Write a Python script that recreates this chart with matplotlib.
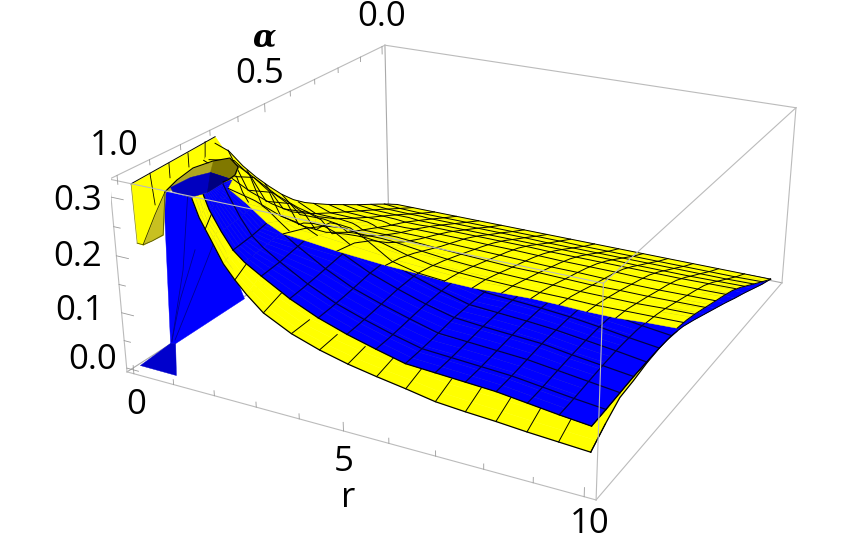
import numpy as np, matplotlib
matplotlib.use('Agg')
import matplotlib.pyplot as plt
from mpl_toolkits.mplot3d.art3d import Poly3DCollection

# ---------- values ----------
r_grid = [0.17, 0.625, 1.25, 1.61, 1.75, 1.875, 2.0, 2.25, 2.5, 2.75, 3.125, 3.75, 4.375, 5.0,
          5.625, 6.25, 6.875, 7.5, 8.125, 8.75, 9.375, 10.0]
alpha_grid = [0, 0.0625, 0.125, 0.1875, 0.25, 0.3125, 0.375, 0.4375, 0.5, 0.5625, 0.625, 0.6875,
              0.75, 0.8125, 0.875, 0.9375, 1.0]
# alpha at which the yellow sheet crosses above the blue one, per r
crossing_alpha = [.730, .830, .820, .848, .884, .920, .882, .852, .834, .794, .737, .651, .628,
                  .626, .620, .611, .603, .602, .605, .605, .600, .596]
# yellow sheet height x 1000: rows alpha_grid, columns r_grid
z_yellow = [
 [1,1,1,1,1,1,1,1,1,1,1,1,1,1,1,1,1,1,1,1,1,1],
 [20,17,16,16,16,16,16,16,16,16,16,16,16,16,15,15,15,15,15,15,15,16],
 [37,34,33,33,32,32,32,32,32,32,32,32,32,31,31,31,31,31,31,31,31,32],
 [54,50,49,49,48,47,47,47,47,47,47,47,47,47,47,47,47,46,46,46,47,48],
 [72,66,65,64,63,62,62,62,63,63,63,63,63,63,62,62,62,62,62,62,63,64],
 [90,82,80,79,77,74,75,75,76,76,76,76,75,75,74,73,73,73,72,73,73,74],
 [110,98,97,95,92,88,88,88,88,88,88,86,85,84,83,82,82,81,81,81,82,83],
 [131,115,114,111,107,102,102,102,102,102,100,97,95,93,91,91,90,89,90,90,91,92],
 [163,131,132,128,122,116,117,118,118,118,116,110,105,102,100,99,99,98,98,98,100,101],
 [201,160,163,154,143,132,135,137,138,138,135,122,113,110,108,107,106,106,105,106,107,108],
 [243,192,197,184,170,158,165,177,177,175,160,130,119,115,112,111,110,109,109,109,111,111],
 [296,230,235,221,203,186,191,194,193,187,170,132,119,115,112,110,108,107,107,107,108,108],
 [330,272,279,260,238,220,218,215,208,199,174,132,118,114,110,108,106,105,104,104,105,105],
 [330,318,325,305,279,256,251,236,222,205,172,131,117,112,108,105,101,100,99,99,99,99],
 [330,330,330,330,322,297,282,248,225,201,169,131,117,111,106,103,99,98,97,96,96,95],
 [330,330,330,327,321,323,280,242,219,196,164,129,115,106,99,94,87,85,83,81,79,77],
 [330,330,330,317,288,271,254,219,196,176,151,127,111,99,90,82,73,69,66,62,59,56],
]
# blue sheet height x 1000: rows alpha 0.5 ... 1.0, columns r_grid
z_blue = [
 [306,306,306,306,306,306,283,253,228,214,198,173,153,138,126,115,112,109,107,101,96,91],
 [330,330,330,330,330,330,316,282,255,238,221,193,171,154,140,128,125,122,119,113,107,101],
 [330,330,330,330,330,330,330,298,269,252,233,204,180,163,148,136,132,129,126,120,113,107],
 [330,330,330,330,330,330,330,302,273,255,236,206,183,165,150,137,134,131,127,121,114,108],
 [330,330,330,330,330,330,330,300,271,253,234,205,181,164,149,136,133,130,126,120,114,107],
 [330,330,330,330,330,330,330,296,267,250,231,202,179,162,147,135,131,128,125,118,112,106],
 [330,330,330,330,330,330,320,286,259,242,224,196,173,157,143,130,127,124,121,115,109,103],
 [330,330,330,330,330,330,311,278,251,235,217,190,168,152,138,126,123,120,117,111,105,100],
 [330,330,330,330,330,330,305,273,246,230,213,186,165,149,136,124,121,118,115,109,103,98],
]
# blue sheet at far alpha (0 ... 0.4375) x 1000, for r = 9.375 and r = 10
z_blue_far_r9 = [1,12,24,37,49,61,73,84]
z_blue_far_r10 = [1,11,23,35,46,58,69,80]

# pieces near the pole, x 1000
blue_wall_alpha_z = [(887,277),(903,6),(887,0),(640,1),(754,222),(803,241)]          # at r = 0
blue_foot_r_alpha = [(-100,891),(-7,886),(896,1001),(-22,1000)]                      # at z = 0
blue_wall_lines = [[(897,6),(843,121),(808,255)],[(886,6),(789,89),(738,134)],[(896,9),(860,71),(799,144)]]
yellow_wall_alpha_z = [(1011,325),(739,334),(693,284),(751,294),(818,300),(872,293),(912,284),(948,255),(991,216),(1008,224)]  # at r = 0.25
yellow_wall_dark = [(991,216),(948,255),(912,284),(911,287),(928,214)]
yellow_wall_lines = [([(1008,224),(991,216),(963,214),(928,214),(912,284)],'#555500',.6),
                     ([(991,216),(948,255),(912,284),(872,293)],'#333300',.6),
                     ([(1011,325),(739,334)],'k',.7),
                     ([(1011,325),(1008,224)],'#888820',.5),
                     ([(953,327),(945,271)],'k',.6),
                     ([(893,328),(893,303)],'k',.6),
                     ([(831,329),(831,305)],'k',.6),
                     ([(773,334),(777,303)],'k',.6)]
ring_r_alpha = [(1201,1028),(1010,966),(882,898),(992,848),(1189,818),(1632,852),(1841,892),(1881,920),(1860,933),(1905,991),(1777,1026),(1220,1015)]  # at z = 0.33
ring_dark = [(992,848),(1189,818),(1632,852),(1841,892),(1881,920),(1311,901)]
ring_blue = [(1122,1002),(1133,941),(1311,901),(1817,911),(1860,933),(1905,991),(1777,1026),(1286,1017)]
ring_blue_dark = [(1311,901),(1817,911),(1860,933),(1905,991)]

r_limits = (-0.175, 10.23)
alpha_limits = (1.023, -0.014)
z_limits = (-0.007, 0.33)
r_ticks = list(range(11))
alpha_ticks = [0, .1, .2, .3, .4, .5, .6, .7, .8, .9, 1.0]
z_ticks = [0, .05, .1, .15, .2, .25, .3]
tick_labels = [(382,17,'0.0'),(260,74,'0.5'),(114,146,'1.0'),(78,201,'0.3'),(78,257,'0.2'),(80,311,'0.1'),
               (93,360,'0.0'),(136,405,'0'),(344,462,'5'),(348,498,'r'),(590,524,'10')]

# ---------- drawing ----------
fig = plt.figure(figsize=(8.6, 5.42), dpi=100)
ax = fig.add_axes([110.56/860, -55.8/542, 706.1/860, 706.1/542], projection='3d', computed_zorder=False)
ax.set_xlim(*r_limits); ax.set_ylim(*alpha_limits); ax.set_zlim(*z_limits)
ax.set_proj_type('persp', focal_length=0.43)
ax.view_init(22.793, -62.169)
ax.set_box_aspect((2.483, 2.491, 1))
ax.set_axis_off()
ax.autoscale(False)

rg = np.array(r_grid); ag = np.array(alpha_grid); ac = np.array(crossing_alpha)
Zy = np.array(z_yellow)/1000.; Zb = np.array(z_blue)/1000.
n = len(rg)
mesh = np.isclose(rg/.625, np.round(rg/.625))
ab = ag[8:]
def zy(al, j): return np.interp(al, ag, Zy[:, j])
def zbb(al, j): return np.interp(al, ab, Zb[:, j])

Y = '#ffff00'; B = '#0000ff'; NAVY = '#00004a'
def surf(R, A, Z, col, zo):
    ax.plot_surface(R, A, Z, color=col, shade=False, rstride=1, cstride=1, linewidth=.3, edgecolor=col, zorder=zo)
def lift(pts, axis, val):
    out = []
    for p, q in pts:
        v = [p/1000., q/1000.]; v.insert(axis, val); out.append(v)
    return np.array(out)
def poly(pts, axis, val, col, zo):
    ax.add_collection3d(Poly3DCollection([lift(pts, axis, val)], facecolor=col, edgecolor=col, linewidth=.3, zorder=zo))
def line(pts, axis, val, col, zo, w):
    P = lift(pts, axis, val); ax.plot(P[:, 0], P[:, 1], P[:, 2], color=col, lw=w, zorder=zo)

poly(blue_wall_alpha_z, 0, 0.0, B, .5)
poly(blue_foot_r_alpha, 2, 0.0, '#0000cc', .5)
for pl in blue_wall_lines:
    line(pl, 0, 0.0, '#000090', .6, .6)
poly(yellow_wall_alpha_z, 0, .25, Y, .7)
poly(yellow_wall_dark, 0, .25, '#c8c020', .7)
for pl, col, w in yellow_wall_lines:
    line(pl, 0, .25, col, .8, w)

ti = np.linspace(0, 1, 17)
# yellow in front of the crossing
jj = np.where(rg >= 1.6)[0]
R = np.tile(rg[jj], (17, 1)); Af = np.array([ac[j]+(1-ac[j])*ti for j in jj]).T
Zf = np.array([zy(Af[:, q], j) for q, j in enumerate(jj)]).T
surf(R, Af, Zf, Y, 1)
for j in jj:
    if mesh[j]:
        ax.plot([rg[j]]*2, [.9375, 1.0], [zy(.9375, j), zy(1.0, j)], color='k', lw=.7, zorder=1.1)
ax.plot(rg[jj], [1.0]*len(jj), Zy[-1, jj], color='k', lw=.9, zorder=1.1)
ax.plot([10]*17, ag, Zy[:, -1], color='k', lw=.9, zorder=1.1)
# blue
jb = np.where(rg >= 1.875)[0]
Rb = np.tile(rg[jb], (17, 1)); Ab2 = np.array([ac[j]+(1-ac[j])*ti for j in jb]).T
Zb2 = np.array([zbb(Ab2[:, q], j) for q, j in enumerate(jb)]).T
surf(Rb, Ab2, Zb2, B, 2)
far = np.array([z_blue_far_r9, z_blue_far_r10]).T/1000.
Zs = np.vstack([far, Zb[:, -2:]])
surf(np.tile(rg[-2:], (17, 1)), np.tile(ag[:, None], (1, 2)), Zs, B, 2)
for j in jb:
    if mesh[j]:
        al = np.linspace(ac[j], 1, 9)
        ax.plot([rg[j]]*9, al, zbb(al, j), color=NAVY, lw=.9, zorder=2.1)
for i in range(8, 16):
    sel = (rg >= 1.875) & (ag[i] > ac)
    ax.plot(rg[sel], [ag[i]]*sel.sum(), Zb[i-8, sel], color=NAVY, lw=.9, zorder=2.1)
ax.plot(rg[jb], [1.]*len(jb), Zb[-1, jb], color='k', lw=.9, zorder=2.1)
ax.plot([10]*17, ag, Zs[:, -1], color='k', lw=.7, zorder=2.1)
# yellow behind the crossing
R = np.tile(rg, (17, 1)); Ab3 = np.outer(ti, ac)
Z3 = np.array([[zy(Ab3[i, j], j) for j in range(n)] for i in range(17)])
surf(R, Ab3, Z3, Y, 3)
for j in range(1, n):
    if mesh[j]:
        al = np.linspace(0, ac[j], 12)
        ax.plot([rg[j]]*12, al, zy(al, j), color='k', lw=.7, zorder=3.1)
for i in range(1, 16):
    sel = ag[i] < ac
    ax.plot(rg[sel], [ag[i]]*sel.sum(), Zy[i, sel], color='k', lw=.7, zorder=3.1)
ax.plot(rg, [0]*n, Zy[0], color='k', lw=.7, zorder=3.1)
ax.plot([rg[0]]*17, Ab3[:, 0], Z3[:, 0], color='k', lw=.7, zorder=3.1)
# hole at the top of the box
poly(ring_r_alpha, 2, .33, '#b0a820', 4)
poly(ring_dark, 2, .33, '#807800', 4)
poly(ring_blue, 2, .33, '#0000c0', 4.1)
poly(ring_blue_dark, 2, .33, '#000080', 4.1)
line(ring_r_alpha[:9], 2, .33, 'k', 4.2, .8)

# box
xl, yl, zl = r_limits, alpha_limits, z_limits
c0 = lambda i, j, k: (xl[i], yl[j], zl[k])
back = [((0,1,0),(1,1,0)), ((0,0,0),(0,1,0)), ((0,1,0),(0,1,1))]
front = [((0,0,0),(1,0,0)), ((1,0,0),(1,1,0)), ((0,0,0),(0,0,1)), ((1,0,0),(1,0,1)), ((1,1,0),(1,1,1)),
         ((0,0,1),(1,0,1)), ((1,0,1),(1,1,1)), ((0,0,1),(0,1,1)), ((0,1,1),(1,1,1))]
for e, col, zo in [(back, '#aaaaaa', 0), (front, '#bbbbbb', 9)]:
    for p, q in e:
        ax.plot(*zip(c0(*p), c0(*q)), color=col, lw=.8, zorder=zo)
for r in r_ticks:
    h = .015 if r % 5 == 0 else .009
    ax.plot([r, r], [yl[0]]*2, [zl[0], zl[0]+h], color='#999999', lw=.6, zorder=9)
for k, al in enumerate(alpha_ticks):
    h = .015 if k % 5 == 0 else .009
    ax.plot([xl[0]]*2, [al, al], [zl[1], zl[1]-h], color='#999999', lw=.6, zorder=9)
for k, z in enumerate(z_ticks):
    h = .3 if k % 2 == 0 else .16
    ax.plot([xl[0], xl[0]+h], [yl[0]]*2, [z, z], color='#999999', lw=.6, zorder=9)

for x, y, t in tick_labels:
    fig.text(x/860, 1-y/542, t, ha='center', va='center', fontsize=25, family='Open Sans')
fig.text(264/860, 1-38/542, 'α', ha='center', va='center', fontsize=22, family='DejaVu Serif', style='italic', weight='bold')
ax.set_xlim(*r_limits); ax.set_ylim(*alpha_limits); ax.set_zlim(*z_limits)
fig.savefig('out.png', dpi=100)
